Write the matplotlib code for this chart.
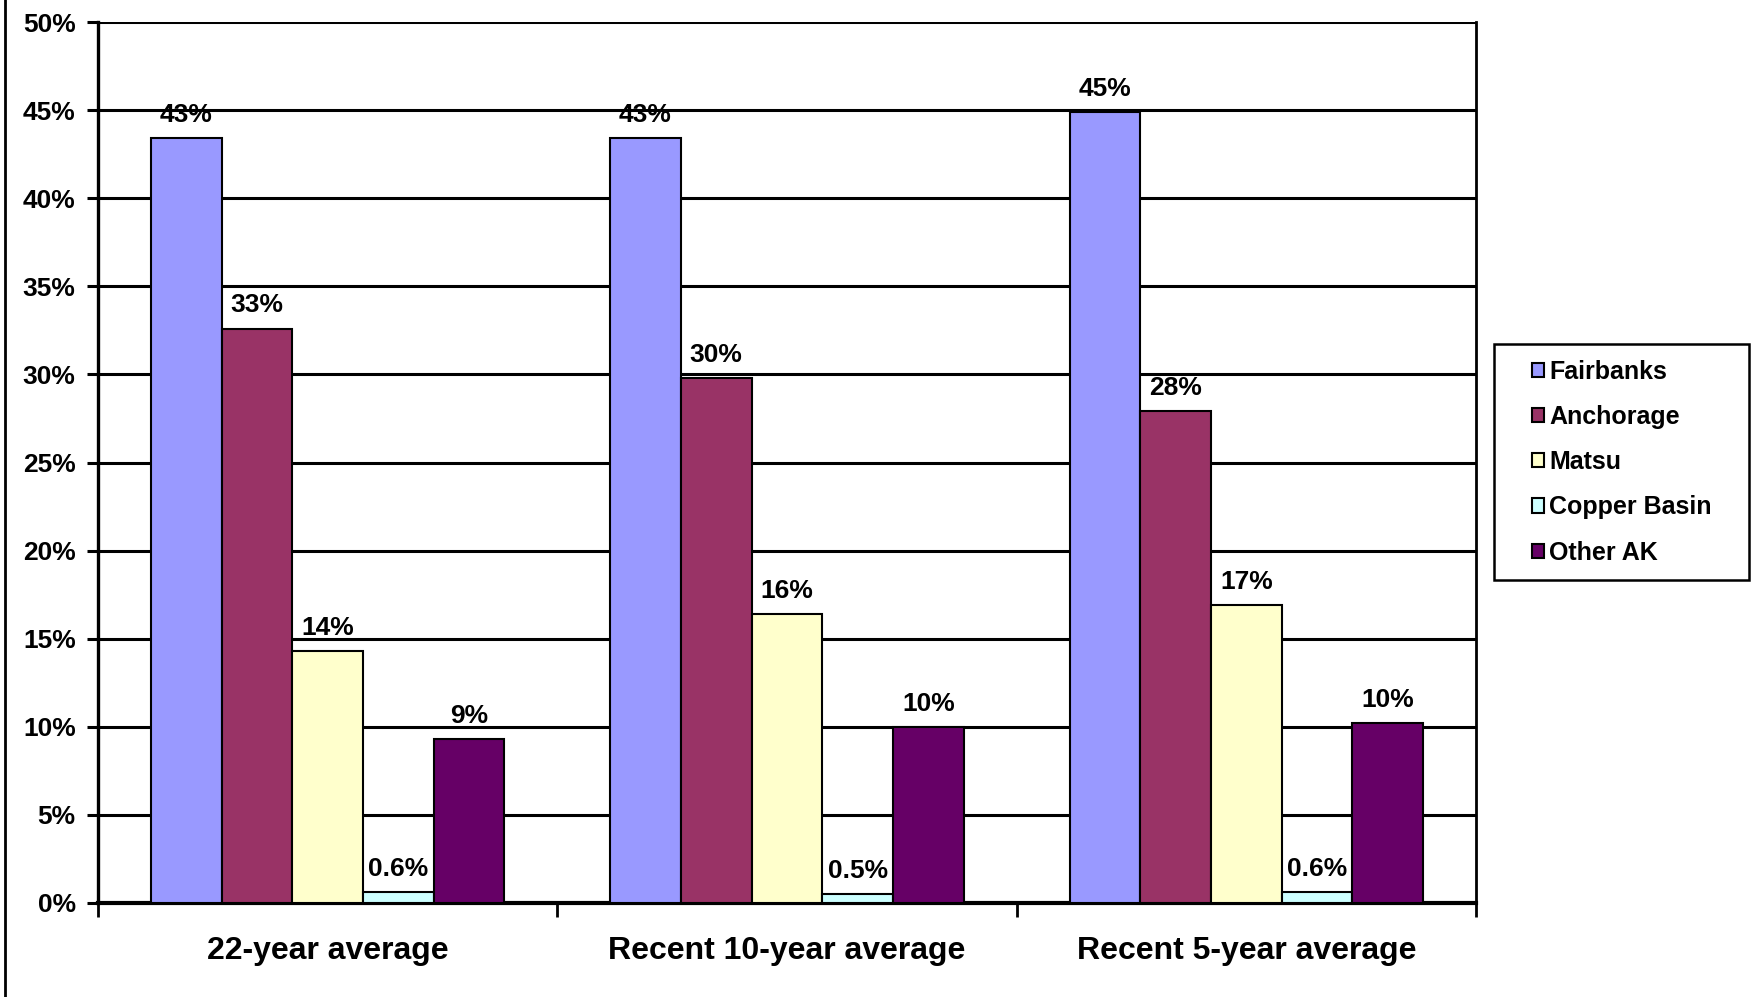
import numpy as np
import matplotlib
matplotlib.use("Agg")
import matplotlib.pyplot as plt
from matplotlib.patches import Rectangle
from matplotlib.lines import Line2D

plt.rcParams['font.family'] = ['Liberation Sans', 'DejaVu Sans']
plt.rcParams['font.weight'] = 'bold'

categories = ['22-year average', 'Recent 10-year average', 'Recent 5-year average']
regions = ['Fairbanks', 'Anchorage', 'Matsu', 'Copper Basin', 'Other AK']
colors = ['#9999FF', '#993366', '#FFFFCC', '#CCFFFF', '#660066']

# percent share per region, one value per averaging period
fairbanks = [43.4, 43.4, 44.9]
anchorage = [32.6, 29.8, 27.9]
matsu = [14.3, 16.4, 16.9]
copper_basin = [0.6, 0.5, 0.6]
other_ak = [9.3, 10.0, 10.2]
series = [fairbanks, anchorage, matsu, copper_basin, other_ak]

yticks = np.arange(0, 51, 5)


def fmt_pct(v):
    if v < 1:
        return '{:.1f}%'.format(v)
    return '{:.0f}%'.format(v)


fig = plt.figure(figsize=(17.52, 9.97), dpi=100)
ax = fig.add_axes([0.0559, 0.0943, 0.7866, 0.8836])

x = np.arange(len(categories))
width = 0.154
for i, (name, vals, col) in enumerate(zip(regions, series, colors)):
    pos = x + (i - 2) * width
    bars = ax.bar(pos, vals, width, color=col, edgecolor='black',
                  linewidth=1.5, label=name, zorder=3)
    for b, v in zip(bars, vals):
        ax.annotate(fmt_pct(v), xy=(b.get_x() + b.get_width() / 2, v),
                    xytext=(0, 8), textcoords='offset points',
                    ha='center', va='bottom', fontsize=19, fontweight='bold',
                    zorder=4)

ax.set_xlim(-0.5, 2.5)
ax.set_ylim(0, 50)
ax.set_yticks(yticks)
ax.set_yticklabels(['{}%'.format(t) for t in yticks], fontsize=19, fontweight='bold')
ax.yaxis.grid(True, color='black', linewidth=2.2, zorder=0)
ax.set_axisbelow(True)

# category names centred, separator ticks between groups
ax.set_xticks(x)
ax.set_xticklabels(categories, fontsize=23, fontweight='bold')
ax.set_xticks(np.arange(-0.5, 3, 1), minor=True)
ax.tick_params(axis='x', which='major', length=0, pad=24)
ax.tick_params(axis='x', which='minor', length=10, width=2, direction='out')
ax.tick_params(axis='y', length=8, width=2.2, direction='out', pad=8)

ax.spines['top'].set_visible(False)
ax.spines['left'].set_linewidth(2.4)
ax.spines['bottom'].set_linewidth(3.0)
ax.spines['right'].set_linewidth(2.0)

# legend with its own frame so the padding can be wider than tall
fig.patches.append(Rectangle((1494 / 1752, 1 - 580 / 997), 255 / 1752, 236 / 997,
                             transform=fig.transFigure, fill=False,
                             edgecolor='black', linewidth=1.8))
leg = fig.legend(loc='center', bbox_to_anchor=((1494 + 1749) / 2 / 1752, 1 - 462 / 997),
                 frameon=False, handlelength=0.5, handleheight=0.5,
                 handletextpad=0.2, labelspacing=0.85,
                 prop={'weight': 'bold', 'size': 18})

# thin rule down the left side of the figure
fig.add_artist(Line2D([5 / 1752, 5 / 1752], [0, 1], transform=fig.transFigure,
                      color='black', linewidth=2))

fig.savefig('out.png', dpi=100, facecolor='white')
